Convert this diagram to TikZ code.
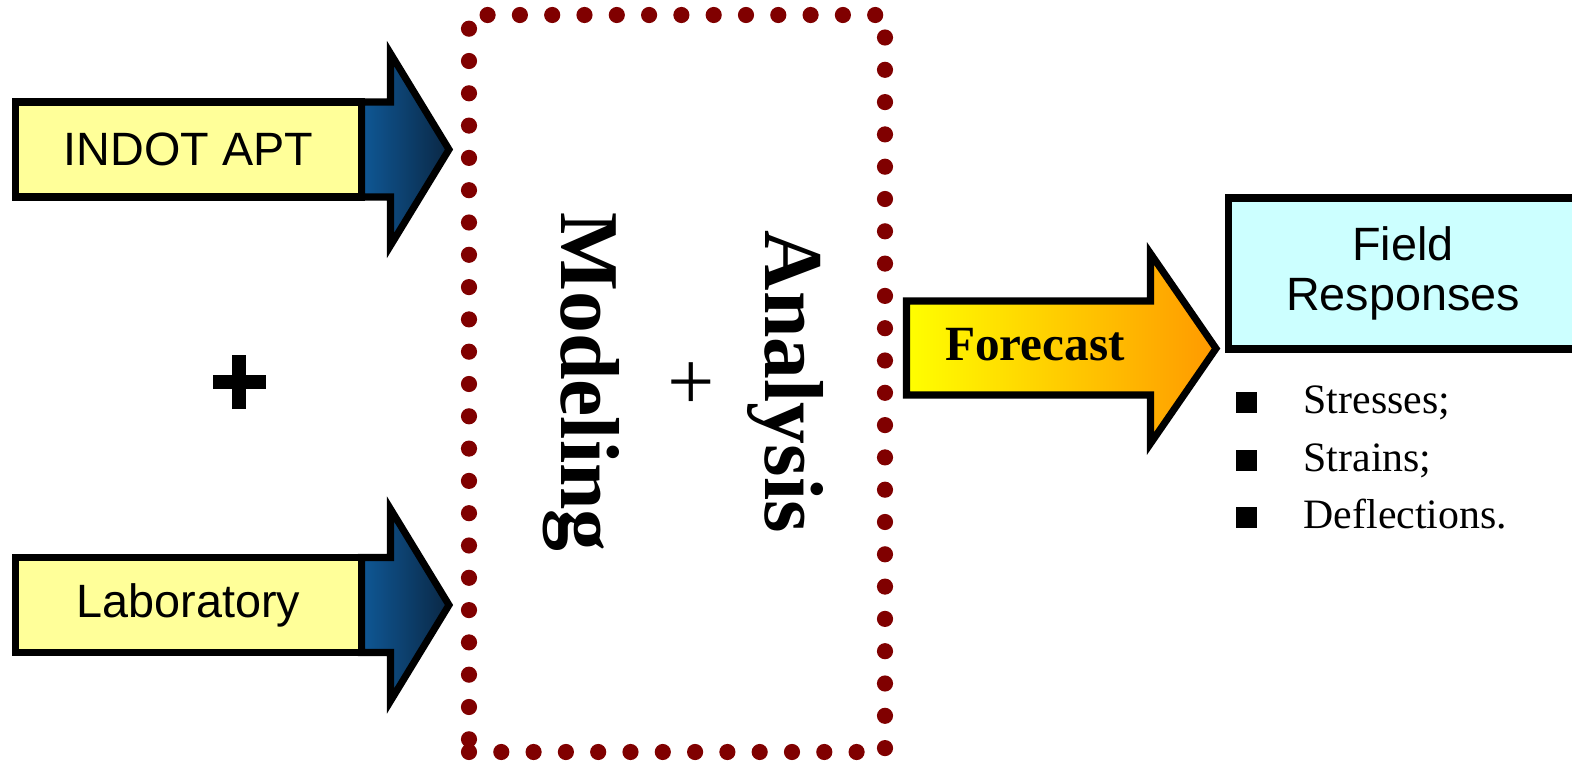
\documentclass[tikz,border=0pt]{standalone}
\usepackage{fontspec}
\setmainfont{Liberation Serif}
\setsansfont{Liberation Sans}
\usepackage{xcolor}
\usepackage{tikz}
\usetikzlibrary{calc,positioning,backgrounds}

\definecolor{boxyellow}{HTML}{FFFF99}
\definecolor{boxcyan}{HTML}{CCFFFF}
\definecolor{dotred}{HTML}{800000}
\definecolor{arrblue}{HTML}{0F5896}
\definecolor{arrnavy}{HTML}{0A2744}
\definecolor{fcorange}{HTML}{FF9900}

\tikzset{
  inbox/.style={draw, line width=2pt, fill=boxyellow, minimum width=3.46cm,
    minimum height=0.95cm, inner sep=0pt, outer sep=0pt,
    font=\sffamily\fontsize{13.3}{15}\selectfont},
  bluehead/.style={draw, line width=2pt, line join=miter,
    left color=arrblue, right color=arrnavy},
  dotbox/.style={draw=dotred, line width=4.6pt, line cap=round,
    dash pattern=on 0pt off 0.323cm, inner sep=0pt, outer sep=0pt},
  fcarrow/.style={draw, line width=2pt, line join=miter,
    left color=yellow, right color=fcorange},
  fieldbox/.style={draw, line width=2pt, fill=boxcyan, align=center,
    minimum width=3.49cm, minimum height=1.51cm, inner sep=0pt, outer sep=0pt,
    font=\sffamily\fontsize{13.3}{14.4}\selectfont},
  sq/.style={fill=black, minimum size=0.21cm, inner sep=0pt},
  itemtxt/.style={inner sep=0pt, font=\fontsize{11.9}{14}\selectfont}
}

\begin{document}
\begin{tikzpicture}
\useasboundingbox (0,0) rectangle (15.72,7.61);

% inputs (yellow boxes with blue heads)
\node[inbox] (apt) at (1.885,6.115) {INDOT APT};
\node[inbox] (lab) at (1.885,1.56) {Laboratory};
\begin{scope}[on background layer]
  \foreach \n in {apt,lab}{
    \draw[bluehead] (\n.north east) -- ++(0.29,0) -- ++(0,0.485)
      -- ($(\n.east)+(0.875,0)$) -- ($(\n.south east)+(0.29,-0.485)$)
      -- ++(0,0.485) -- (\n.south east) -- cycle;
  }
\end{scope}

% plus between the inputs
\draw[line width=0.14cm] (2.13,3.79) -- (2.66,3.79) (2.39,3.52) -- (2.39,4.06);

% analysis + modeling
\node[dotbox, minimum width=4.16cm, minimum height=7.37cm] (core) at (6.77,3.775) {};
\node[rotate=-90, align=center, inner sep=0pt,
  font=\fontsize{23.8}{29}\selectfont] (am) at (6.83,3.79)
  {\textbf{Analysis}\\+\\\textbf{Modeling}};

% forecast arrow
\draw[fcarrow] (9.065,4.60) -- (11.505,4.60) -- (11.505,5.075) -- (12.16,4.125)
  -- (11.505,3.175) -- (11.505,3.66) -- (9.065,3.66) -- cycle;
\node[font=\bfseries\fontsize{14}{16}\selectfont] (fc) at (10.35,4.16) {Forecast};

% output
\node[fieldbox] (field) at (14.03,4.875) {Field\\Responses};
\foreach \txt/\y [count=\i] in {Stresses;/3.48, Strains;/2.90, Deflections./2.33}{
  \node[sq] (sq\i) at (12.46,\y+0.11) {};
  \node[itemtxt, anchor=base west] (it\i) at (13.03,\y) {\txt};
}

\end{tikzpicture}
\end{document}
